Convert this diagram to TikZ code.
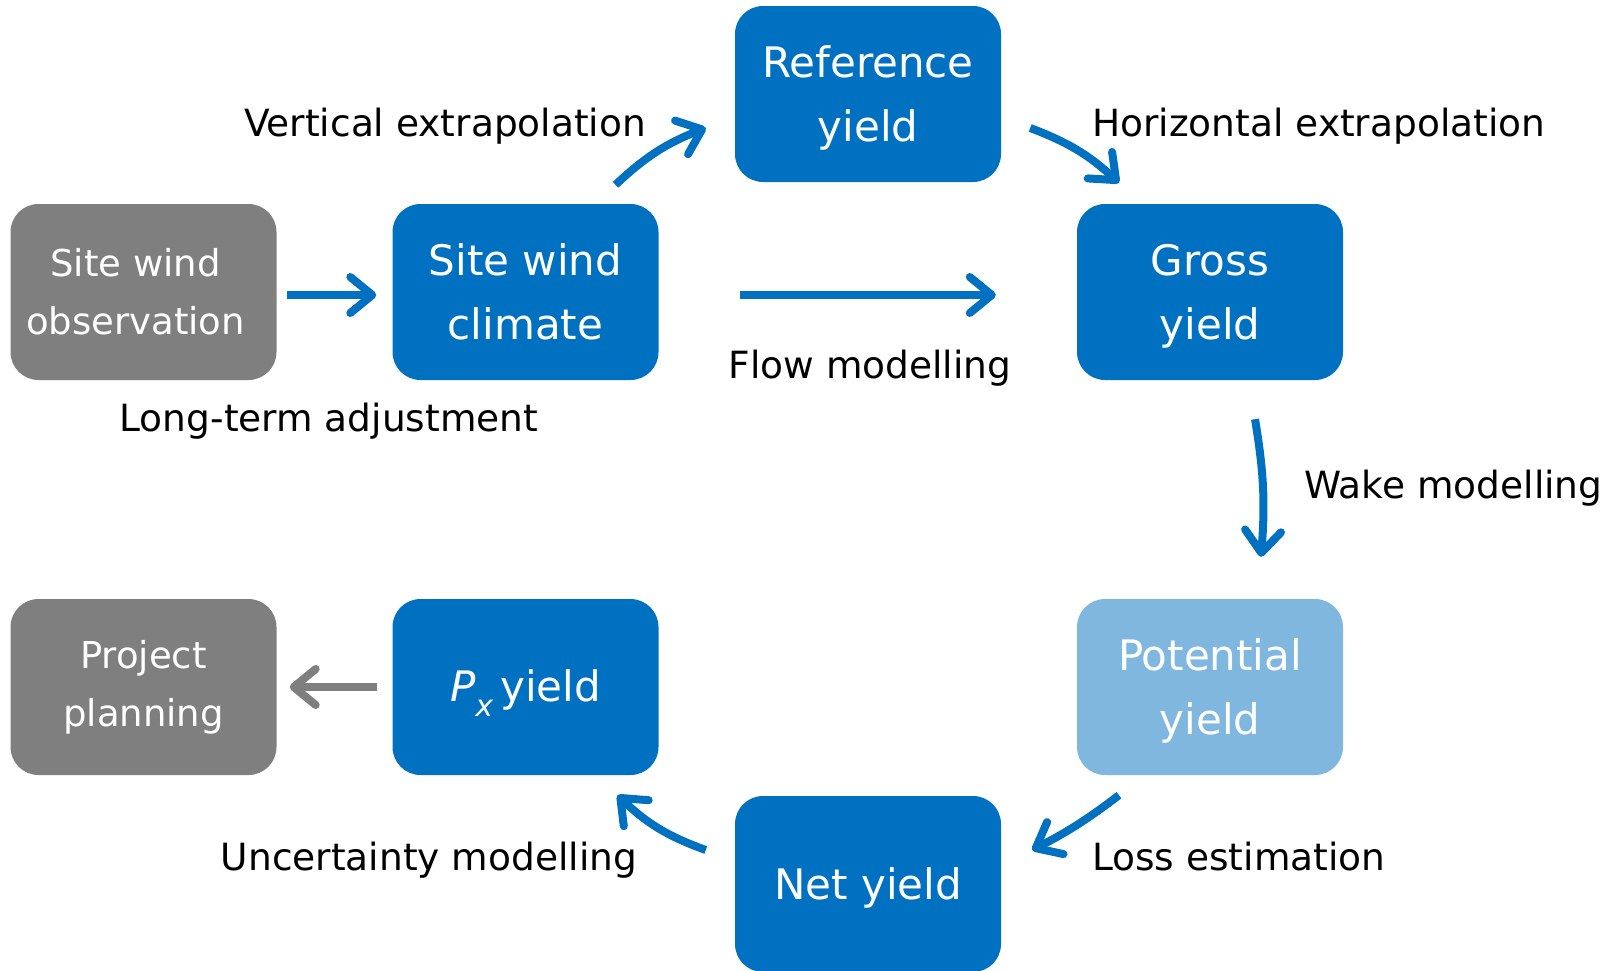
\documentclass[tikz,border=0pt]{standalone}
\usepackage{fontspec}
\setmainfont{DejaVu Sans}
\usetikzlibrary{arrows.meta}
\definecolor{mblue}{RGB}{0,112,192}
\definecolor{mgray}{RGB}{127,127,127}
\definecolor{lblue}{RGB}{127,183,223}
\newcommand\mystrutA{\rule{0pt}{40pt}}
\newcommand\mystrutB{\rule{0pt}{44pt}}
\begin{document}
\begin{tikzpicture}[x=1pt,y=-1pt,
  box/.style={rounded corners=28pt, minimum width=266pt, minimum height=176pt, inner sep=0pt, text=white, align=center, font=\fontsize{42}{64}\selectfont},
  bluebox/.style={box, fill=mblue},
  graybox/.style={box, fill=mgray, font=\fontsize{37}{58}\selectfont},
  lightbox/.style={box, fill=lblue},
  lbl/.style={anchor=base, font=\fontsize{37.5}{44}\selectfont, inner sep=0pt},
  lbll/.style={lbl, anchor=base west},
  arr/.style={draw=mblue, line width=8pt, -{Straight Barb[length=22pt,width=36pt,round]}},
  garr/.style={arr, draw=mgray}]
\useasboundingbox (0,0) rectangle (1610,970);

\node[graybox]  (obs)   at (143.5,292) {Site wind\hspace*{16pt}\\observation\hspace*{16pt}};
\node[bluebox]  (clim)  at (525.5,292) {Site wind\\climate};
\node[bluebox]  (ref)   at (868,94)    {\mystrutA Reference\\yield};
\node[bluebox]  (gross) at (1210,292)  {\mystrutA Gross\\yield};
\node[lightbox] (pot)   at (1210,687)  {\mystrutA Potential\\yield};
\node[bluebox]  (net)   at (868,884)   {\mystrutA Net yield};
\node[bluebox]  (px)    at (525.5,687) {\mystrutB{\itshape P\raisebox{-0.35em}{\fontsize{30}{30}\selectfont x}}\,yield};
\node[graybox]  (proj)  at (143.5,687) {Project\\planning};

\draw[arr] ([xshift=10pt,yshift=-3pt]obs.east) -- ([xshift=-16pt,yshift=-3pt]clim.west);
\draw[arr] ([xshift=81pt,yshift=-3pt]clim.east) -- ([xshift=-81pt,yshift=-3pt]gross.west);
\draw[arr] ([xshift=90pt,yshift=19pt]clim.north) to[bend left=11] ([xshift=-29pt,yshift=-34pt]ref.west);
\draw[arr] ([xshift=29pt,yshift=-34pt]ref.east) to[bend left=11] ([xshift=-91pt,yshift=21pt]gross.north);
\draw[arr] ([xshift=45pt,yshift=-39pt]gross.south) to[bend left=7] ([xshift=51pt,yshift=42pt]pot.north);
\draw[arr] ([xshift=-91pt,yshift=-20pt]pot.south) to[bend left=5] ([xshift=31pt,yshift=34pt]net.east);
\draw[arr] ([xshift=-29pt,yshift=34pt]net.west) to[bend left=12] ([xshift=92pt,yshift=-20pt]px.south);
\draw[garr] ([xshift=-15pt]px.west) -- ([xshift=13pt]proj.east);

\node[lbl]  (lv) at (445,136)  {Vertical extrapolation};
\node[lbll] (lh) at (1092,136) {Horizontal extrapolation};
\node[lbl]  (ll) at (329,431)  {Long-term adjustment};
\node[lbl]  (lf) at (870,378)  {Flow modelling};
\node[lbll] (lw) at (1304,498) {Wake modelling};
\node[lbll] (lo) at (1092,870) {Loss estimation};
\node[lbl]  (lu) at (429,870)  {Uncertainty modelling};
\end{tikzpicture}
\end{document}
